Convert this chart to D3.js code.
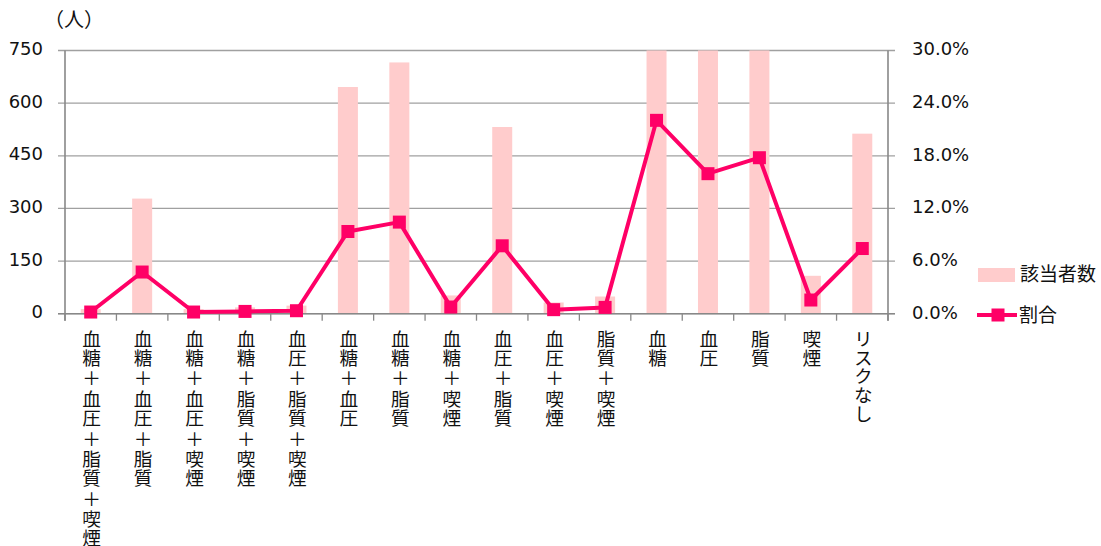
<!DOCTYPE html>
<html>
<head>
<meta charset="utf-8">
<script src="https://cdn.jsdelivr.net/npm/d3@7"></script>
<style>
  html, body { margin: 0; padding: 0; background: #fff; }
  svg { display: block; }
</style>
</head>
<body>
<div id="chart"></div>
<script>
// Risk-factor combinations
const categories = [
  "血糖＋血圧＋脂質＋喫煙", "血糖＋血圧＋脂質", "血糖＋血圧＋喫煙", "血糖＋脂質＋喫煙",
  "血圧＋脂質＋喫煙", "血糖＋血圧", "血糖＋脂質", "血糖＋喫煙", "血圧＋脂質",
  "血圧＋喫煙", "脂質＋喫煙", "血糖", "血圧", "脂質", "喫煙", "リスクなし"
];
// 該当者数 (people)
const counts = [13, 328, 13, 18, 23, 646, 716, 52, 532, 32, 49, 1513, 1094, 1222, 108, 513];
// 割合 (%)
const ratios = [0.19, 4.75, 0.19, 0.26, 0.34, 9.37, 10.44, 0.76, 7.74, 0.46, 0.72, 22.04, 15.96, 17.78, 1.56, 7.43];

const leftTicks = [0, 150, 300, 450, 600, 750];
const rightTicks = [0, 6, 12, 18, 24, 30];
const seriesNames = ["該当者数", "割合"];

const W = 1101, H = 546;
const barColor = "#FFCCCC", lineColor = "#FF0066";
const gridColor = "#A0A0A0", axisColor = "#888888";
const numFont = "'DejaVu Sans', Verdana, sans-serif";
const jpFont = "'Noto Sans CJK JP', sans-serif";

const svg = d3.select("#chart").append("svg").attr("width", W).attr("height", H);

const plotL = 65, plotR = 888, plotT = 50.5, plotB = 313.7;
const x = d3.scaleBand().domain(categories).range([plotL, plotR]).padding(0);
const yL = d3.scaleLinear().domain([0, 750]).range([plotB, plotT]);
const yR = d3.scaleLinear().domain([0, 30]).range([plotB, plotT]);

// horizontal gridlines (extend over both axis tick marks)
svg.append("g").selectAll("line").data(leftTicks).join("line")
  .attr("x1", plotL - 7).attr("x2", plotR + 7)
  .attr("y1", d => yL(d)).attr("y2", d => yL(d))
  .attr("stroke", gridColor).attr("stroke-width", 1.3);

// bars, clipped at the top of the plot
svg.append("defs").append("clipPath").attr("id", "plotClip")
  .append("rect").attr("x", plotL).attr("y", plotT).attr("width", plotR - plotL).attr("height", plotB - plotT);

const barW = 20;
svg.append("g").attr("clip-path", "url(#plotClip)")
  .selectAll("rect").data(counts).join("rect")
  .attr("x", (d, i) => x(categories[i]) + x.bandwidth() / 2 - barW / 2)
  .attr("width", barW)
  .attr("y", d => yL(d))
  .attr("height", d => yL(0) - yL(d))
  .attr("fill", barColor);

// axis lines
svg.append("line").attr("x1", plotL).attr("x2", plotL).attr("y1", plotT).attr("y2", plotB + 7)
  .attr("stroke", axisColor).attr("stroke-width", 1.6);
svg.append("line").attr("x1", plotR).attr("x2", plotR).attr("y1", plotT).attr("y2", plotB + 7)
  .attr("stroke", axisColor).attr("stroke-width", 1.6);
svg.append("line").attr("x1", plotL - 7).attr("x2", plotR + 7).attr("y1", plotB).attr("y2", plotB)
  .attr("stroke", axisColor).attr("stroke-width", 1.6);

// category boundary ticks
const bounds = categories.map(c => x(c)).concat([plotR]);
svg.append("g").selectAll("line").data(bounds).join("line")
  .attr("x1", d => d).attr("x2", d => d)
  .attr("y1", plotB).attr("y2", plotB + 7)
  .attr("stroke", axisColor).attr("stroke-width", 1.3);

// left axis labels
const gL = svg.append("g").attr("transform", `translate(${plotL},0)`)
  .call(d3.axisLeft(yL).tickValues(leftTicks).tickSize(0).tickPadding(22));
gL.select(".domain").remove();
gL.selectAll("text").attr("font-family", numFont).attr("font-size", 18)
  .attr("fill", "#111").attr("dy", "0.22em");

// right axis labels
const gR = svg.append("g").attr("transform", `translate(${plotR},0)`)
  .call(d3.axisRight(yR).tickValues(rightTicks).tickSize(0).tickPadding(24)
    .tickFormat(d => d3.format(".1f")(d) + "%"));
gR.select(".domain").remove();
gR.selectAll("text").attr("font-family", numFont).attr("font-size", 18)
  .attr("fill", "#111").attr("dy", "0.24em");

// unit label
svg.append("text").attr("x", 74).attr("y", 20).attr("dy", "0.36em")
  .attr("text-anchor", "middle").attr("font-family", jpFont).attr("font-size", 20)
  .attr("fill", "#111").text("（人）");

// vertical category labels: one text per category, one tspan per glyph
const fs = 18.7, plusGap = 1.9;
const labelG = svg.append("g");
categories.forEach(c => {
  const cx = x(c) + x.bandwidth() / 2 + 1;
  const t = labelG.append("text")
    .attr("x", cx).attr("y", 330)
    .attr("writing-mode", "vertical-rl")
    .attr("font-family", jpFont).attr("font-size", fs).attr("fill", "#111");
  let yy = 330;
  Array.from(c).forEach(ch => {
    if (ch === "＋") yy += plusGap;
    t.append("tspan").attr("x", cx).attr("y", yy).text(ch);
    yy += fs;
    if (ch === "＋") yy += plusGap;
  });
});

// ratio line with square markers
const line = d3.line()
  .x((d, i) => x(categories[i]) + x.bandwidth() / 2)
  .y(d => yR(d));
svg.append("path").datum(ratios).attr("d", line)
  .attr("fill", "none").attr("stroke", lineColor).attr("stroke-width", 4)
  .attr("stroke-linejoin", "round");
const mk = 13;
svg.append("g").selectAll("rect").data(ratios).join("rect")
  .attr("x", (d, i) => x(categories[i]) + x.bandwidth() / 2 - mk / 2)
  .attr("y", d => yR(d) - mk / 2)
  .attr("width", mk).attr("height", mk)
  .attr("fill", lineColor);

// legend
const lg = svg.append("g");
lg.append("rect").attr("x", 978).attr("y", 268).attr("width", 37).attr("height", 14).attr("fill", barColor);
lg.append("text").attr("x", 1020).attr("y", 272).attr("dominant-baseline", "central")
  .attr("font-family", jpFont).attr("font-size", 19).attr("fill", "#111").text(seriesNames[0]);
lg.append("line").attr("x1", 977).attr("x2", 1017).attr("y1", 315).attr("y2", 315)
  .attr("stroke", lineColor).attr("stroke-width", 4);
lg.append("rect").attr("x", 998 - mk / 2).attr("y", 315 - mk / 2).attr("width", mk).attr("height", mk)
  .attr("fill", lineColor);
lg.append("text").attr("x", 1019).attr("y", 313).attr("dominant-baseline", "central")
  .attr("font-family", jpFont).attr("font-size", 19).attr("fill", "#111").text(seriesNames[1]);
</script>
</body>
</html>
